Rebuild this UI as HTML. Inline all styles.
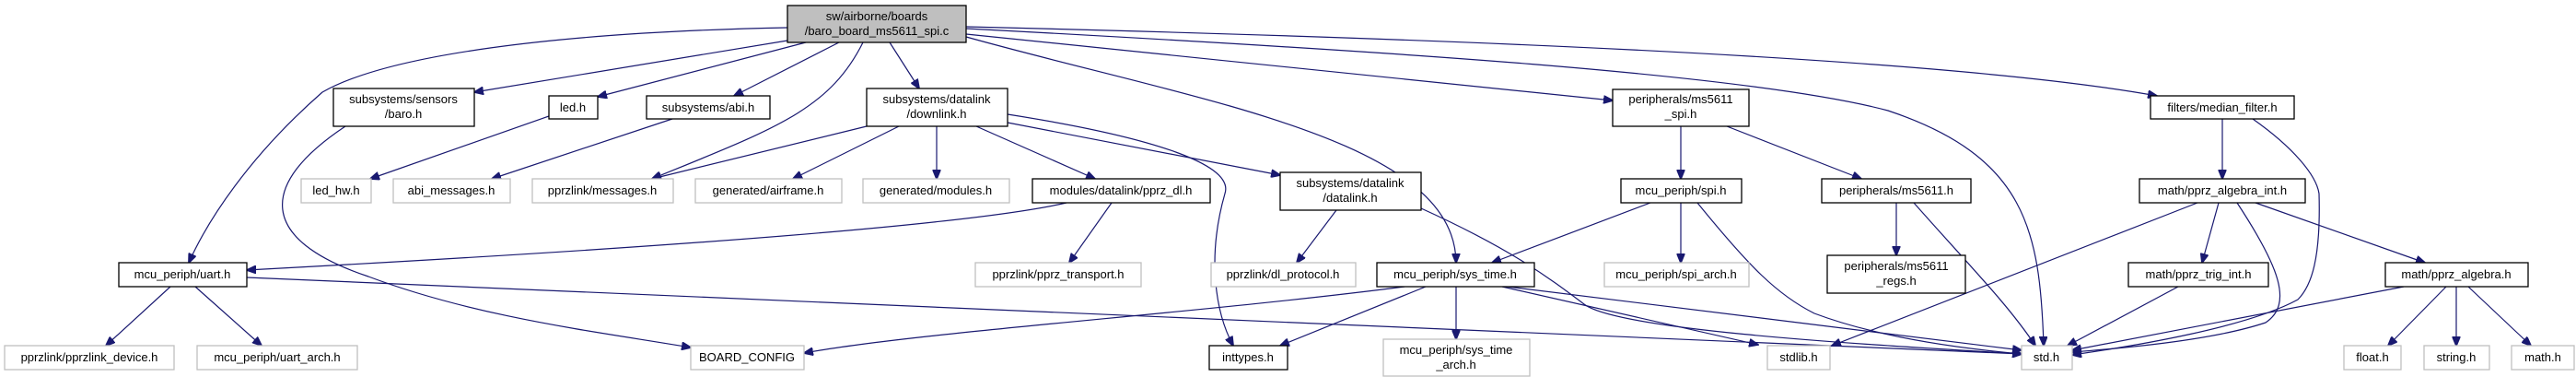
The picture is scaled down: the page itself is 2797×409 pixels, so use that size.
<!DOCTYPE html>
<html><head><meta charset="utf-8"><style>
html,body{margin:0;padding:0;background:#fff;}
svg{display:block}
text{font-family:"Liberation Sans","DejaVu Sans",sans-serif;font-size:13px;fill:#000;text-anchor:middle}
.e{fill:none;stroke:#191970;stroke-width:1.2}
.n{fill:#fff;stroke:#000;stroke-width:1.3}
.g{fill:#fff;stroke:#bfbfbf;stroke-width:1.3}
</style></head><body>
<svg width="2797" height="409" viewBox="0 0 2797 409" xmlns="http://www.w3.org/2000/svg">
<defs><marker id="a" markerWidth="11" markerHeight="9" refX="10" refY="4.5" orient="auto" markerUnits="userSpaceOnUse"><path d="M0,0 L11,4.5 L0,9 z" fill="#191970" stroke="#191970"/></marker></defs>
<g marker-end="url(#a)">
<path class="e" d="M855,30 C600,35 420,60 350,100 C270,170 225,240 205,285"/>
<path class="e" d="M855,44 L515,100"/>
<path class="e" d="M875,46 L649,105"/>
<path class="e" d="M911,46 L797,104"/>
<path class="e" d="M937,46 C900,120 840,140 708,194"/>
<path class="e" d="M966,46 L998,96"/>
<path class="e" d="M1049,40 C1300,110 1580,150 1581,285"/>
<path class="e" d="M1049,37 L1751,109"/>
<path class="e" d="M1049,29 C1500,40 2100,60 2342,104"/>
<path class="e" d="M1049,31 C1500,55 1900,80 2050,120 C2200,170 2215,250 2219,375"/>
<path class="e" d="M941,137 L708,194"/>
<path class="e" d="M976,137 L861,194"/>
<path class="e" d="M1017,137 L1017,194"/>
<path class="e" d="M1060,137 L1189,194"/>
<path class="e" d="M1094,133 L1390,190"/>
<path class="e" d="M1094,124 C1260,150 1340,180 1330,210 C1310,280 1320,340 1339,375"/>
<path class="e" d="M1158,220 C1050,245 700,270 268,293"/>
<path class="e" d="M1207,220 L1161,285"/>
<path class="e" d="M1451,228 L1408,285"/>
<path class="e" d="M1543,226 C1640,270 1680,300 1720,330 C1760,360 2050,375 2195,384"/>
<path class="e" d="M185,311 L115,375"/>
<path class="e" d="M212,311 L284,375"/>
<path class="e" d="M268,301 L2195,384"/>
<path class="e" d="M375,137 C280,200 280,260 400,300 C520,345 650,360 750,377"/>
<path class="e" d="M596,126 L402,194"/>
<path class="e" d="M730,129 L534,194"/>
<path class="e" d="M1825,137 L1825,194"/>
<path class="e" d="M1875,137 L2021,194"/>
<path class="e" d="M1792,220 L1620,285"/>
<path class="e" d="M1825,220 L1825,285"/>
<path class="e" d="M1843,220 C1900,290 1930,320 1970,340 C2050,370 2150,380 2195,384"/>
<path class="e" d="M1525,311 C1300,340 1000,360 873,383"/>
<path class="e" d="M1548,311 L1390,375"/>
<path class="e" d="M1581,311 L1581,368"/>
<path class="e" d="M1631,311 L1909,374"/>
<path class="e" d="M1637,311 L2195,380"/>
<path class="e" d="M2059,220 L2059,277"/>
<path class="e" d="M2078,220 C2140,290 2180,330 2210,375"/>
<path class="e" d="M2446,129 C2490,160 2515,190 2518,210 C2520,280 2510,310 2495,325 C2440,355 2320,375 2250,385"/>
<path class="e" d="M2413,129 L2413,194"/>
<path class="e" d="M2386,220 L1989,375"/>
<path class="e" d="M2409,220 L2391,285"/>
<path class="e" d="M2429,220 C2475,290 2490,330 2460,350 C2400,370 2300,378 2250,382"/>
<path class="e" d="M2449,220 L2633,285"/>
<path class="e" d="M2365,311 L2245,375"/>
<path class="e" d="M2610,311 L2250,380"/>
<path class="e" d="M2656,311 L2593,375"/>
<path class="e" d="M2667,311 L2667,375"/>
<path class="e" d="M2680,311 L2748,375"/>
</g>
<!-- nodes -->
<rect x="855" y="6" width="194" height="40" fill="#bfbfbf" stroke="#000" stroke-width="1.3"/>
<text x="952" y="22">sw/airborne/boards</text><text x="952" y="38">/baro_board_ms5611_spi.c</text>

<rect class="n" x="362" y="96" width="153" height="41"/><text x="438" y="112">subsystems/sensors</text><text x="438" y="128">/baro.h</text>
<rect class="n" x="596" y="104" width="53" height="25"/><text x="622" y="121">led.h</text>
<rect class="n" x="702" y="104" width="134" height="25"/><text x="769" y="121">subsystems/abi.h</text>
<rect class="n" x="941" y="96" width="153" height="41"/><text x="1017" y="112">subsystems/datalink</text><text x="1017" y="128">/downlink.h</text>
<rect class="n" x="1751" y="97" width="148" height="40"/><text x="1825" y="112">peripherals/ms5611</text><text x="1825" y="128">_spi.h</text>
<rect class="n" x="2335" y="104" width="156" height="25"/><text x="2413" y="121">filters/median_filter.h</text>

<rect class="g" x="327" y="194" width="76" height="26"/><text x="365" y="211">led_hw.h</text>
<rect class="g" x="427" y="194" width="127" height="26"/><text x="490" y="211">abi_messages.h</text>
<rect class="g" x="578" y="194" width="153" height="26"/><text x="654" y="211">pprzlink/messages.h</text>
<rect class="g" x="755" y="194" width="159" height="26"/><text x="834" y="211">generated/airframe.h</text>
<rect class="g" x="937" y="194" width="159" height="26"/><text x="1016" y="211">generated/modules.h</text>
<rect class="n" x="1121" y="194" width="193" height="26"/><text x="1217" y="211">modules/datalink/pprz_dl.h</text>
<rect class="n" x="1390" y="187" width="153" height="41"/><text x="1466" y="203">subsystems/datalink</text><text x="1466" y="219">/datalink.h</text>
<rect class="n" x="1760" y="194" width="131" height="26"/><text x="1825" y="211">mcu_periph/spi.h</text>
<rect class="n" x="1978" y="194" width="162" height="26"/><text x="2059" y="211">peripherals/ms5611.h</text>
<rect class="n" x="2323" y="194" width="180" height="26"/><text x="2413" y="211">math/pprz_algebra_int.h</text>

<rect class="n" x="129" y="285" width="139" height="26"/><text x="198" y="302">mcu_periph/uart.h</text>
<rect class="g" x="1059" y="285" width="180" height="26"/><text x="1149" y="302">pprzlink/pprz_transport.h</text>
<rect class="g" x="1315" y="285" width="157" height="26"/><text x="1393" y="302">pprzlink/dl_protocol.h</text>
<rect class="n" x="1495" y="285" width="171" height="26"/><text x="1580" y="302">mcu_periph/sys_time.h</text>
<rect class="g" x="1742" y="285" width="157" height="26"/><text x="1820" y="302">mcu_periph/spi_arch.h</text>
<rect class="n" x="1984" y="277" width="150" height="41"/><text x="2059" y="293">peripherals/ms5611</text><text x="2059" y="309">_regs.h</text>
<rect class="n" x="2311" y="285" width="152" height="26"/><text x="2387" y="302">math/pprz_trig_int.h</text>
<rect class="n" x="2590" y="285" width="155" height="26"/><text x="2667" y="302">math/pprz_algebra.h</text>

<rect class="g" x="5" y="375" width="184" height="26"/><text x="97" y="392">pprzlink/pprzlink_device.h</text>
<rect class="g" x="214" y="375" width="174" height="26"/><text x="301" y="392">mcu_periph/uart_arch.h</text>
<rect class="g" x="750" y="375" width="123" height="26"/><text x="811" y="392">BOARD_CONFIG</text>
<rect class="n" x="1313" y="375" width="85" height="26"/><text x="1355" y="392">inttypes.h</text>
<rect class="g" x="1502" y="368" width="159" height="40"/><text x="1581" y="384">mcu_periph/sys_time</text><text x="1581" y="400">_arch.h</text>
<rect class="g" x="1919" y="375" width="68" height="26"/><text x="1953" y="392">stdlib.h</text>
<rect class="g" x="2195" y="375" width="55" height="26"/><text x="2222" y="392">std.h</text>
<rect class="g" x="2545" y="375" width="62" height="26"/><text x="2576" y="392">float.h</text>
<rect class="g" x="2632" y="375" width="71" height="26"/><text x="2667" y="392">string.h</text>
<rect class="g" x="2727" y="375" width="68" height="26"/><text x="2761" y="392">math.h</text>
</svg>
</body></html>
